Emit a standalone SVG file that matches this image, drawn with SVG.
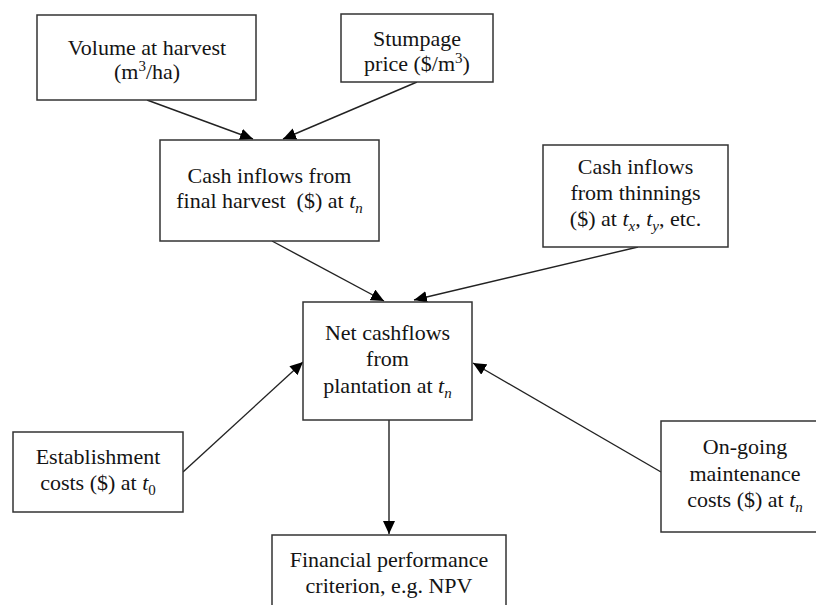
<svg xmlns="http://www.w3.org/2000/svg" width="816" height="605" viewBox="0 0 816 605">
<style>
.box{fill:#fff;stroke:#333;stroke-width:1.5}
.lbl{font-family:"Liberation Serif","Times New Roman",serif;font-size:22px;fill:#141414;text-anchor:middle}
.it{font-style:italic}
.sub{font-size:15px}
.con{stroke:#222;stroke-width:1.4;fill:none;marker-end:url(#ah)}
</style>
<defs>
<marker id="ah" markerUnits="userSpaceOnUse" markerWidth="14" markerHeight="12" refX="13" refY="6" orient="auto">
<path d="M0,0 L13,6 L0,12 z" fill="#000"/>
</marker>
</defs>
<rect width="816" height="605" fill="#fff"/>
<g id="connectors">
<line class="con" x1="147" y1="100" x2="253" y2="139"/>
<line class="con" x1="417" y1="82" x2="283" y2="139"/>
<line class="con" x1="272" y1="241" x2="384" y2="301"/>
<line class="con" x1="638" y1="247" x2="414" y2="300"/>
<line class="con" x1="183" y1="472" x2="303" y2="362"/>
<line class="con" x1="661" y1="472" x2="473" y2="363"/>
<line class="con" x1="389" y1="420" x2="389" y2="534"/>
</g>
<g id="volume">
<rect class="box" x="37" y="15" width="219" height="85"/>
<text class="lbl" x="147" y="55">Volume at harvest</text>
<text class="lbl" x="147" y="79">(m<tspan class="sub" dy="-8">3</tspan><tspan dy="8">/ha)</tspan></text>
</g>
<g id="stumpage">
<rect class="box" x="341" y="14" width="152" height="68"/>
<text class="lbl" x="417" y="46">Stumpage</text>
<text class="lbl" x="417" y="71">price ($/m<tspan class="sub" dy="-8">3</tspan><tspan dy="8">)</tspan></text>
</g>
<g id="final-harvest">
<rect class="box" x="160" y="140" width="219" height="101"/>
<text class="lbl" x="269.5" y="183">Cash inflows from</text>
<text class="lbl" x="269.5" y="208" xml:space="preserve">final harvest  ($) at <tspan class="it">t</tspan><tspan class="sub it" dy="5">n</tspan></text>
</g>
<g id="thinnings">
<rect class="box" x="543" y="145" width="185" height="102"/>
<text class="lbl" x="635.5" y="174">Cash inflows</text>
<text class="lbl" x="635.5" y="200">from thinnings</text>
<text class="lbl" x="635.5" y="226">($) at <tspan class="it">t</tspan><tspan class="sub it" dy="5">x</tspan><tspan dy="-5">, </tspan><tspan class="it">t</tspan><tspan class="sub it" dy="5">y</tspan><tspan dy="-5">, etc.</tspan></text>
</g>
<g id="net">
<rect class="box" x="303" y="302" width="169" height="118"/>
<text class="lbl" x="387.5" y="340">Net cashflows</text>
<text class="lbl" x="387.5" y="366">from</text>
<text class="lbl" x="387.5" y="393">plantation at <tspan class="it">t</tspan><tspan class="sub it" dy="5">n</tspan></text>
</g>
<g id="establishment">
<rect class="box" x="13" y="432" width="170" height="80"/>
<text class="lbl" x="98" y="464">Establishment</text>
<text class="lbl" x="98" y="490">costs ($) at <tspan class="it">t</tspan><tspan class="sub" dy="5">0</tspan></text>
</g>
<g id="maintenance">
<rect class="box" x="661" y="421" width="168" height="111"/>
<text class="lbl" x="745" y="454">On-going</text>
<text class="lbl" x="745" y="481">maintenance</text>
<text class="lbl" x="745" y="507">costs ($) at <tspan class="it">t</tspan><tspan class="sub it" dy="5">n</tspan></text>
</g>
<g id="financial">
<rect class="box" x="272" y="535" width="234" height="90"/>
<text class="lbl" x="389" y="567">Financial performance</text>
<text class="lbl" x="389" y="593">criterion, e.g. NPV</text>
</g>
</svg>
